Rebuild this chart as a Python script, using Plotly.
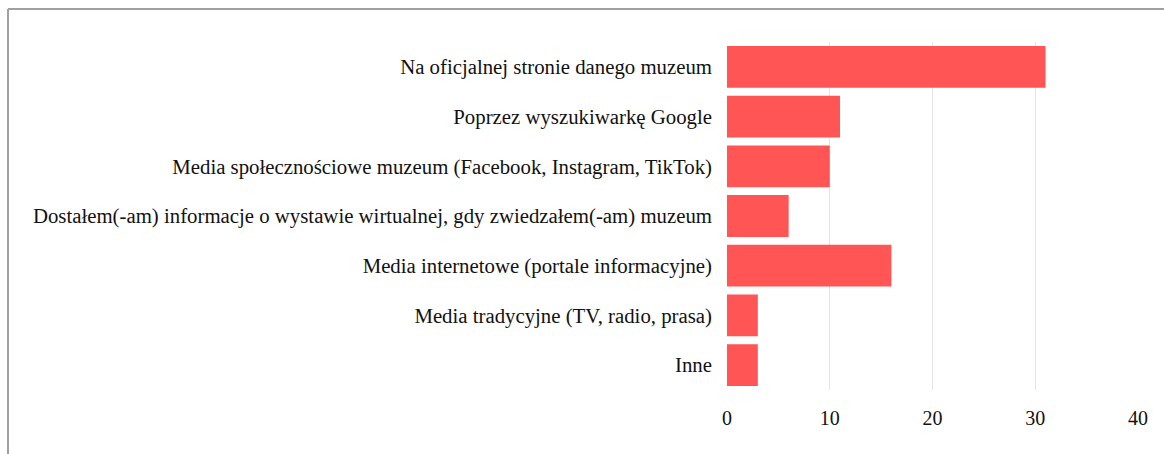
import plotly.graph_objects as go

categories = [
    "Na oficjalnej stronie danego muzeum",
    "Poprzez wyszukiwarkę Google",
    "Media społecznościowe muzeum (Facebook, Instagram, TikTok)",
    "Dostałem(-am) informacje o wystawie wirtualnej, gdy zwiedzałem(-am) muzeum",
    "Media internetowe (portale informacyjne)",
    "Media tradycyjne (TV, radio, prasa)",
    "Inne",
]
counts = [31, 11, 10, 6, 16, 3, 3]
x_ticks = [0, 10, 20, 30, 40]

W, H = 1164, 454
ML, MR, MT, MB = 727, 26, 42, 64
pw, ph = W - ML - MR, H - MT - MB


def px_to_paper_x(px):
    return (px - ML) / pw


def px_to_paper_y(py):
    return 1 - (py - MT) / ph


fig = go.Figure(
    go.Bar(
        x=counts,
        y=categories,
        orientation="h",
        marker=dict(color="#ff5555", line=dict(width=0)),
    )
)

# frame lines along the top and left edges
frame = dict(type="line", xref="paper", yref="paper",
             line=dict(color="#a0a0a0", width=2), layer="above")
fig.add_shape(**frame, x0=px_to_paper_x(8), x1=px_to_paper_x(W),
              y0=px_to_paper_y(9), y1=px_to_paper_y(9))
fig.add_shape(**frame, x0=px_to_paper_x(8), x1=px_to_paper_x(8),
              y0=px_to_paper_y(9), y1=px_to_paper_y(H))

fig.update_layout(
    width=W,
    height=H,
    margin=dict(l=ML, r=MR, t=MT, b=MB),
    paper_bgcolor="white",
    plot_bgcolor="white",
    bargap=0.16,
    showlegend=False,
    font=dict(family="Liberation Serif, Times New Roman, serif", size=20.8, color="#111111"),
    xaxis=dict(
        range=[0, 40],
        tickvals=x_ticks,
        showgrid=True,
        gridcolor="#e4e4e4",
        gridwidth=1,
        zeroline=False,
        showline=False,
        ticks="",
        ticklabelstandoff=14,
        tickfont=dict(size=20),
    ),
    yaxis=dict(
        autorange="reversed",
        showgrid=False,
        zeroline=False,
        showline=False,
        ticks="",
        ticklabelstandoff=14,
    ),
)

fig.write_html("out.html")
